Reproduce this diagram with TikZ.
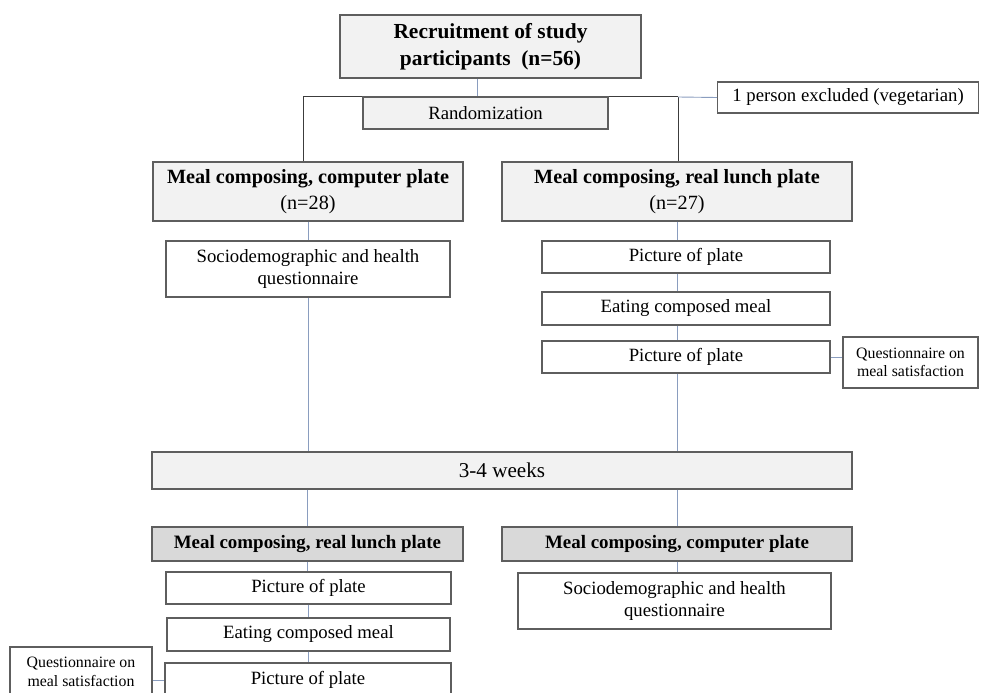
\documentclass[tikz,border=0pt]{standalone}
\usepackage{fontspec}
\setmainfont{Liberation Serif}
\begin{document}
\begin{tikzpicture}[x=1bp,y=-1bp,
  box/.style={draw=boxline,line width=1.1bp,align=center,inner sep=1bp,fill=white,font=\fontsize{18.8}{23}\selectfont},
  lightbox/.style={box,fill=lightfill},
  darkbox/.style={box,fill=darkfill},
  smalltxt/.style={font=\fontsize{15.9}{18.5}\selectfont},
  link/.style={draw=linkblue,line width=0.9bp},
  trunk/.style={draw=trunkgrey,line width=1bp},
  boldtxt/.style={font=\fontsize{19}{22}\selectfont\bfseries}
]
\definecolor{boxline}{HTML}{5E5E5E}
\definecolor{lightfill}{HTML}{F2F2F2}
\definecolor{darkfill}{HTML}{D9D9D9}
\definecolor{linkblue}{HTML}{8A9DBF}
\definecolor{trunkgrey}{HTML}{3C3C3C}
\useasboundingbox (0,0) rectangle (981,693);
\clip (0,0) rectangle (981,693);

% recruitment and randomisation
\node[lightbox,minimum width=301bp,minimum height=63bp,
      font=\fontsize{21.5}{27}\selectfont\bfseries] (top) at (490.5,46.5)
      {Recruitment of study\\participants~~(n=56)};
\coordinate (split) at (477,97);
\coordinate (armL) at (303,97);
\coordinate (armR) at (678,97);
\draw[link] (top.south -| split) -- (split);
\draw[trunk] (armL) -- (armR);
\node[lightbox,minimum width=245bp,minimum height=32bp] (rand) at (485.5,113) {Randomization};
\node[box,minimum width=261bp,minimum height=31bp,anchor=west] (excl) at (717,97.5)
      {1 person excluded (vegetarian)};

% first period, left arm
\node[lightbox,minimum width=310bp,minimum height=59bp,
      font=\fontsize{20.3}{26}\selectfont] (mealL1) at (308,191.5)
      {\textbf{Meal composing, computer plate}\\(n=28)};
\node[box,minimum width=284bp,minimum height=56bp] (socL1) at (308,269)
      {Sociodemographic and health\\questionnaire};

% first period, right arm
\node[lightbox,minimum width=350bp,minimum height=59bp,
      font=\fontsize{20.3}{26}\selectfont] (mealR1) at (677,191.5)
      {\textbf{Meal composing, real lunch plate}\\(n=27)};
\node[box,minimum width=288bp,minimum height=32bp] (picR1) at (686,257) {Picture of plate};
\node[box,minimum width=288bp,minimum height=33bp] (eatR1) at (686,308.5) {Eating composed meal};
\node[box,minimum width=288bp,minimum height=32bp] (picR2) at (686,357) {Picture of plate};
\node[box,smalltxt,minimum width=135bp,minimum height=51bp] (qR) at (910.5,362.5)
      {Questionnaire on\\meal satisfaction};

% washout
\node[lightbox,minimum width=700bp,minimum height=37bp,
      font=\fontsize{21.2}{24}\selectfont] (weeks) at (502,470.5) {3-4 weeks};

% second period, left arm
\node[darkbox,boldtxt,minimum width=311bp,minimum height=34bp] (mealL2) at (307.5,544)
      {Meal composing, real lunch plate};
\node[box,minimum width=285bp,minimum height=32bp] (picL1) at (308.5,588) {Picture of plate};
\node[box,minimum width=283bp,minimum height=33bp] (eatL1) at (308.5,634.5) {Eating composed meal};
\node[box,minimum width=286bp,minimum height=34bp] (picL2) at (308,680) {Picture of plate};
\node[box,smalltxt,minimum width=142bp,minimum height=50bp] (qL) at (81,672)
      {Questionnaire on\\meal satisfaction};

% second period, right arm
\node[darkbox,boldtxt,minimum width=350bp,minimum height=34bp] (mealR2) at (677,544)
      {Meal composing, computer plate};
\node[box,minimum width=313bp,minimum height=56bp] (socR2) at (674.5,601)
      {Sociodemographic and health\\questionnaire};

% connectors
\draw[trunk] (armL) -- (mealL1.north -| armL);
\draw[trunk] (armR) -- (mealR1.north -| armR);
\draw[link] (armR) -- (excl.west);

\draw[link] (mealL1.south) -- (socL1.north);
\draw[link] (socL1.south) -- (weeks.north -| socL1.south);

\draw[link] (mealR1.south) -- (mealR1.south |- picR1.north);
\draw[link] (picR1.south -| mealR1.south) -- (eatR1.north -| mealR1.south);
\draw[link] (eatR1.south -| mealR1.south) -- (picR2.north -| mealR1.south);
\draw[link] (picR2.south -| mealR1.south) -- (weeks.north -| mealR1.south);
\draw[link] (picR2.east) -- (qR.west |- picR2.east);

\draw[link] (weeks.south -| mealL2.north) -- (mealL2.north);
\draw[link] (mealL2.south) -- (picL1.north -| mealL2.south);
\draw[link] (picL1.south) -- (eatL1.north);
\draw[link] (eatL1.south) -- (picL2.north -| eatL1.south);
\draw[link] (qL.east |- picL2.west) -- (picL2.west);

\draw[link] (weeks.south -| mealR2.north) -- (mealR2.north);
\draw[link] (mealR2.south) -- (socR2.north -| mealR2.south);
\end{tikzpicture}
\end{document}
